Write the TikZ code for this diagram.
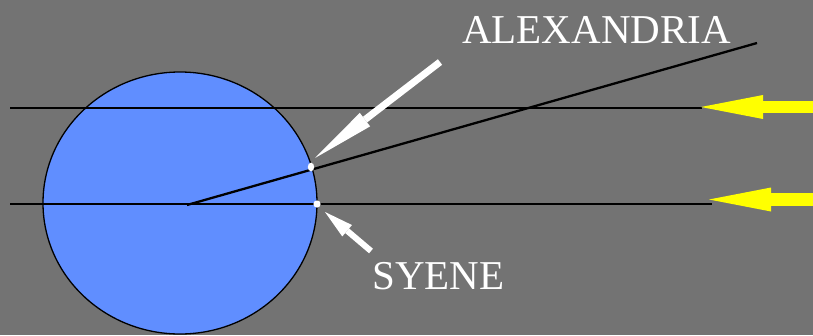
\documentclass[tikz,border=0pt]{standalone}
\usepackage{fontspec}
\setmainfont{Liberation Serif}
\usetikzlibrary{arrows.meta}
\definecolor{bg}{RGB}{115,115,115}
\definecolor{earth}{RGB}{96,142,255}
\definecolor{sun}{RGB}{255,255,0}
\begin{document}
\begin{tikzpicture}[x=1pt,y=-1pt,
  ray/.style={draw=black,line width=2.3pt},
  label/.style={text=white,inner sep=0pt,font=\fontsize{41}{41}\selectfont},
  pointer/.style={draw=white,line width=#1},
  sunray/.style={draw=sun,line width=12.5pt,-{Triangle[length=62pt,width=24pt,line width=0pt]}},
  spot/.style={fill=white,draw=none}]
\fill[bg] (0,0) rectangle (813,335);
\useasboundingbox (0,0) rectangle (813,335);
% earth
\coordinate (C) at (180,203);
\fill[earth,draw=black,line width=1.3pt] (C) ellipse [x radius=137,y radius=131];
% points
\coordinate (center) at (187,205);
\coordinate (alex) at (311,167);
\coordinate (syene) at (317,204);
\coordinate (zen) at (757,43);
\coordinate (l1a) at (10,108);
\coordinate (l1b) at (702,108);
\coordinate (l2a) at (10,204);
\coordinate (l2b) at (712,204);
% rays
\draw[ray] (l1a) -- (l1b);
\draw[ray] (l2a) -- (l2b);
\draw[ray] (center) -- (zen);
% dots
\fill[spot] (alex) ellipse [x radius=3.2,y radius=4.3];
\fill[spot] (syene) circle [radius=3.6];
% labels
\node[label,anchor=base west] (alexlabel) at (462,43) {ALEXANDRIA};
\node[label,anchor=base west] (syenelabel) at (372,289) {SYENE};
% pointers
\coordinate (ap1) at (440,62);
\coordinate (ap2) at (315,158);
\coordinate (sp1) at (371,251);
\coordinate (sp2) at (325,212);
\draw[pointer=7pt,-{Triangle[length=63pt,width=17pt,line width=0pt]}] (ap1) -- (ap2);
\draw[pointer=6pt,-{Triangle[length=29pt,width=15pt,line width=0pt]}] (sp1) -- (sp2);
% sunlight
\coordinate (s1a) at (813,107);
\coordinate (s1b) at (701,107);
\coordinate (s2a) at (813,199.5);
\coordinate (s2b) at (709,199.5);
\draw[sunray] (s1a) -- (s1b);
\draw[sunray] (s2a) -- (s2b);
\end{tikzpicture}
\end{document}
